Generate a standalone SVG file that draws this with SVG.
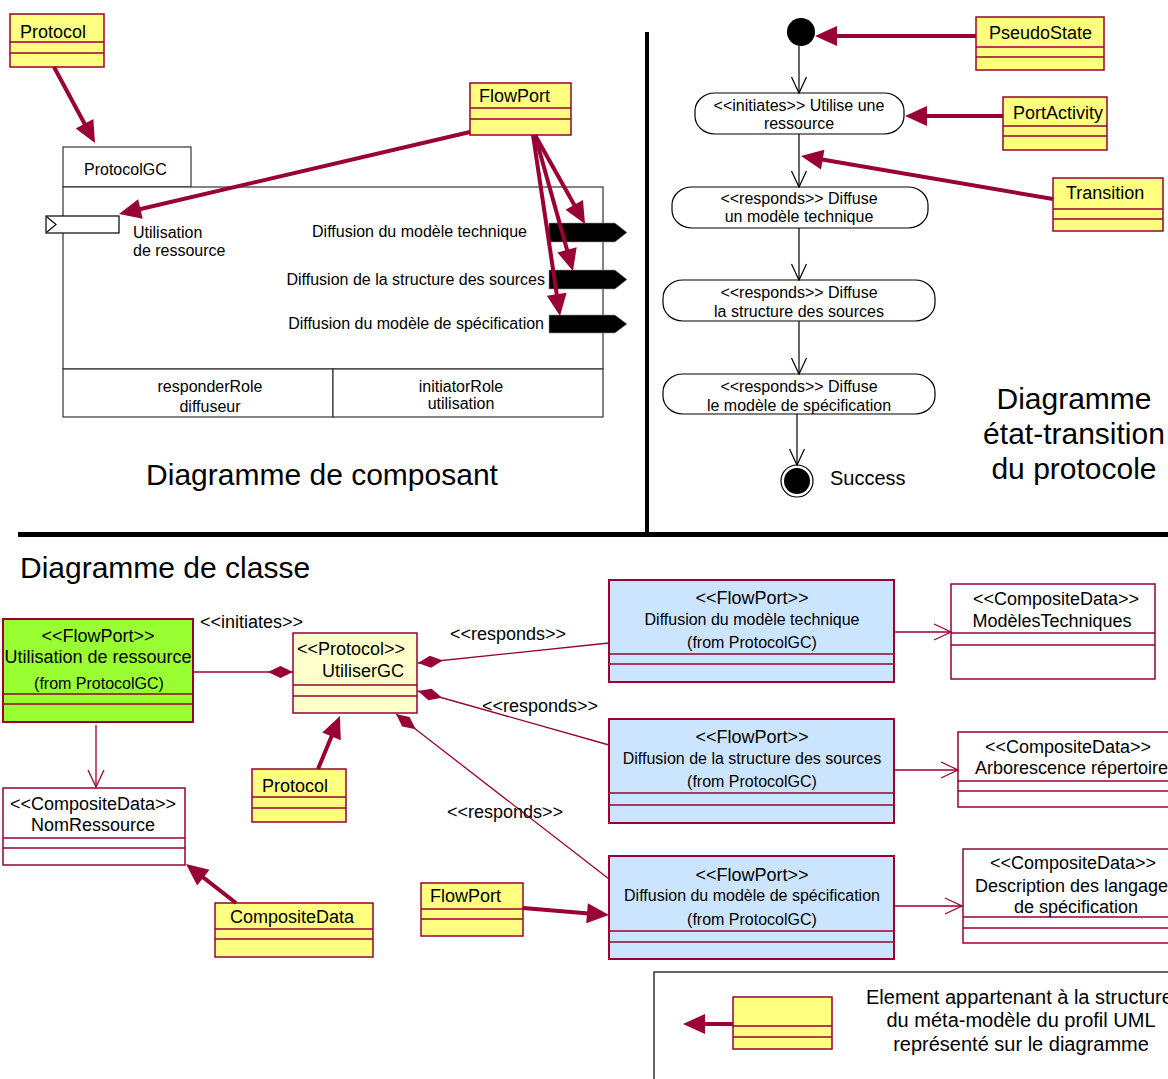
<svg xmlns="http://www.w3.org/2000/svg" width="1168" height="1079" viewBox="0 0 1168 1079">
<style>
text{font-family:"Liberation Sans",Arial,sans-serif;fill:#000}
.t16{font-size:16px}
.t18{font-size:18px}
.t20{font-size:20px}
.t30{font-size:30px}
.mid{text-anchor:middle}
.end{text-anchor:end}
.yb{fill:#ffff80;stroke:#990033;stroke-width:1.5}
.bb{fill:#cce5ff;stroke:#990033;stroke-width:2}
.gb{fill:#99ff33;stroke:#990033;stroke-width:2}
.lyb{fill:#ffffcc;stroke:#990033;stroke-width:1.5}
.wb{fill:#fff;stroke:#990033;stroke-width:1.5}
.cl{stroke:#990033;stroke-width:1.5;fill:none}
.heavy{stroke:#990033;stroke-width:4;fill:none;marker-end:url(#hv)}
.thin{stroke:#990033;stroke-width:1.3;fill:none}
.comp{fill:#fff;stroke:#333;stroke-width:1.2}
.state{fill:#fff;stroke:#000;stroke-width:1.2}
.tr{stroke:#000;stroke-width:1.2;fill:none;marker-end:url(#ov)}
</style>
<defs>
<marker id="hv" markerUnits="userSpaceOnUse" markerWidth="22" markerHeight="20" refX="14" refY="10" orient="auto" overflow="visible"><path d="M0,0 L22,10 L0,20 z" fill="#990033"/></marker>
<marker id="ov" markerUnits="userSpaceOnUse" markerWidth="17" markerHeight="16" refX="16" refY="7.5" orient="auto" overflow="visible"><path d="M0,0 L16,7.5 L0,15" fill="none" stroke="#000" stroke-width="1.2"/></marker>
<marker id="ovr" markerUnits="userSpaceOnUse" markerWidth="18" markerHeight="17" refX="17" refY="8" orient="auto" overflow="visible"><path d="M0,0 L17,8 L0,16" fill="none" stroke="#990033" stroke-width="1.3"/></marker>
<marker id="dia" markerUnits="userSpaceOnUse" markerWidth="25" markerHeight="13" refX="0" refY="6" orient="auto" overflow="visible"><path d="M0,6 L12.5,0 L25,6 L12.5,12 z" fill="#990033"/></marker>
</defs>

<!-- separators -->
<rect x="645" y="32" width="4" height="502" fill="#000"/>
<rect x="18" y="532" width="1150" height="5" fill="#000"/>

<!-- ===== Component diagram ===== -->
<g id="protocolgc">
<rect class="comp" x="63" y="147" width="128" height="40"/>
<text class="t16" x="84" y="175">ProtocolGC</text>
<rect class="comp" x="63" y="187" width="540" height="182"/>
<rect class="comp" x="63" y="369" width="270" height="48"/>
<rect class="comp" x="333" y="369" width="270" height="48"/>
<text class="t16 mid" x="210" y="392">responderRole</text>
<text class="t16 mid" x="210" y="412">diffuseur</text>
<text class="t16 mid" x="461" y="392">initiatorRole</text>
<text class="t16 mid" x="461" y="409">utilisation</text>
</g>
<g id="port-utilisation">
<rect x="46" y="216" width="73" height="17" fill="#fff" stroke="#000" stroke-width="1.2"/>
<path d="M47,217 L56,224.5 L47,232" fill="none" stroke="#000" stroke-width="1.2"/>
<text class="t16" x="133" y="238">Utilisation</text>
<text class="t16" x="133" y="256">de ressource</text>
</g>
<g id="port-technique">
<path d="M549,223 H615 L627,232.5 L615,242 H549 z" fill="#000" stroke="#999" stroke-width="0.6"/>
<text class="t16 end" x="527" y="237">Diffusion du modèle technique</text>
</g>
<g id="port-sources">
<path d="M549,270 H615 L627,279.5 L615,289 H549 z" fill="#000" stroke="#999" stroke-width="0.6"/>
<text class="t16 end" x="545" y="285">Diffusion de la structure des sources</text>
</g>
<g id="port-specification">
<path d="M549,315 H615 L627,324 L615,333 H549 z" fill="#000" stroke="#999" stroke-width="0.6"/>
<text class="t16 end" x="544" y="329">Diffusion du modèle de spécification</text>
</g>
<g id="protocol-top">
<rect class="yb" x="10" y="14" width="94" height="53"/>
<line class="cl" x1="10" y1="42" x2="104" y2="42"/>
<line class="cl" x1="10" y1="53" x2="104" y2="53"/>
<text class="t18" x="20" y="38">Protocol</text>
</g>
<g id="flowport-top">
<rect class="yb" x="470" y="83" width="101" height="52"/>
<line class="cl" x1="470" y1="108" x2="571" y2="108"/>
<line class="cl" x1="470" y1="119" x2="571" y2="119"/>
<text class="t18" x="479" y="102">FlowPort</text>
</g>
<text class="t30 mid" x="322" y="485">Diagramme de composant</text>

<!-- ===== State diagram ===== -->
<g id="initial"><circle cx="801" cy="32" r="14" fill="#000"/></g>
<g id="state1">
<rect class="state" x="695" y="93" width="209" height="41" rx="20" ry="18"/>
<text class="t16 mid" x="799" y="111">&lt;&lt;initiates&gt;&gt; Utilise une</text>
<text class="t16 mid" x="799" y="129">ressource</text>
</g>
<g id="state2">
<rect class="state" x="672" y="187" width="256" height="41" rx="20" ry="18"/>
<text class="t16 mid" x="799" y="204">&lt;&lt;responds&gt;&gt; Diffuse</text>
<text class="t16 mid" x="799" y="222">un modèle technique</text>
</g>
<g id="state3">
<rect class="state" x="663" y="280" width="272" height="41" rx="20" ry="18"/>
<text class="t16 mid" x="799" y="298">&lt;&lt;responds&gt;&gt; Diffuse</text>
<text class="t16 mid" x="799" y="317">la structure des sources</text>
</g>
<g id="state4">
<rect class="state" x="663" y="374" width="272" height="40" rx="20" ry="18"/>
<text class="t16 mid" x="799" y="392">&lt;&lt;responds&gt;&gt; Diffuse</text>
<text class="t16 mid" x="799" y="411">le modèle de spécification</text>
</g>
<g id="final">
<circle cx="797" cy="481" r="16" fill="#fff" stroke="#000" stroke-width="1.2"/>
<circle cx="797" cy="481" r="13" fill="#000"/>
<text class="t20" x="830" y="485">Success</text>
</g>
<g id="pseudostate">
<rect class="yb" x="976" y="17" width="128" height="53"/>
<line class="cl" x1="976" y1="47" x2="1104" y2="47"/>
<line class="cl" x1="976" y1="57" x2="1104" y2="57"/>
<text class="t18" x="989" y="39">PseudoState</text>
</g>
<g id="portactivity">
<rect class="yb" x="1003" y="97" width="104" height="53"/>
<line class="cl" x1="1003" y1="126" x2="1107" y2="126"/>
<line class="cl" x1="1003" y1="136" x2="1107" y2="136"/>
<text class="t18" x="1013" y="119">PortActivity</text>
</g>
<g id="transition">
<rect class="yb" x="1053" y="178" width="110" height="53"/>
<line class="cl" x1="1053" y1="209" x2="1163" y2="209"/>
<line class="cl" x1="1053" y1="219" x2="1163" y2="219"/>
<text class="t18" x="1066" y="199">Transition</text>
</g>
<text class="t30 mid" x="1074" y="409">Diagramme</text>
<text class="t30 mid" x="1074" y="444">état-transition</text>
<text class="t30 mid" x="1074" y="479">du protocole</text>

<!-- ===== Class diagram ===== -->
<text class="t30" x="20" y="578">Diagramme de classe</text>
<g id="utilisation-ressource">
<rect class="gb" x="3" y="619" width="190" height="103"/>
<line class="cl" x1="3" y1="694" x2="193" y2="694"/>
<line class="cl" x1="3" y1="704" x2="193" y2="704"/>
<text class="t18 mid" x="98" y="642">&lt;&lt;FlowPort&gt;&gt;</text>
<text class="t18 mid" x="98" y="663">Utilisation de ressource</text>
<text class="t16 mid" x="99" y="689">(from ProtocolGC)</text>
</g>
<g id="utilisergc">
<rect class="lyb" x="293" y="633" width="124" height="80"/>
<line class="cl" x1="293" y1="685" x2="417" y2="685"/>
<line class="cl" x1="293" y1="696" x2="417" y2="696"/>
<text class="t18" x="297" y="655">&lt;&lt;Protocol&gt;&gt;</text>
<text class="t18" x="322" y="677">UtiliserGC</text>
</g>
<g id="nomressource">
<rect class="wb" x="3" y="788" width="182" height="77"/>
<line class="cl" x1="3" y1="838" x2="185" y2="838"/>
<line class="cl" x1="3" y1="848" x2="185" y2="848"/>
<text class="t18 mid" x="93" y="810">&lt;&lt;CompositeData&gt;&gt;</text>
<text class="t18 mid" x="93" y="831">NomRessource</text>
</g>
<g id="protocol-bottom">
<rect class="yb" x="252" y="769" width="94" height="53"/>
<line class="cl" x1="252" y1="797" x2="346" y2="797"/>
<line class="cl" x1="252" y1="808" x2="346" y2="808"/>
<text class="t18" x="262" y="792">Protocol</text>
</g>
<g id="compositedata">
<rect class="yb" x="215" y="903" width="158" height="54"/>
<line class="cl" x1="215" y1="929" x2="373" y2="929"/>
<line class="cl" x1="215" y1="939" x2="373" y2="939"/>
<text class="t18" x="230" y="923">CompositeData</text>
</g>
<g id="flowport-bottom">
<rect class="yb" x="421" y="883" width="102" height="53"/>
<line class="cl" x1="421" y1="909" x2="523" y2="909"/>
<line class="cl" x1="421" y1="919" x2="523" y2="919"/>
<text class="t18" x="430" y="902">FlowPort</text>
</g>
<g id="fp-technique">
<rect class="bb" x="609" y="580" width="285" height="102"/>
<line class="cl" x1="609" y1="654" x2="894" y2="654"/>
<line class="cl" x1="609" y1="664" x2="894" y2="664"/>
<text class="t18 mid" x="752" y="604">&lt;&lt;FlowPort&gt;&gt;</text>
<text class="t16 mid" x="752" y="625">Diffusion du modèle technique</text>
<text class="t16 mid" x="752" y="648">(from ProtocolGC)</text>
</g>
<g id="fp-sources">
<rect class="bb" x="609" y="719" width="285" height="104"/>
<line class="cl" x1="609" y1="793" x2="894" y2="793"/>
<line class="cl" x1="609" y1="805" x2="894" y2="805"/>
<text class="t18 mid" x="752" y="743">&lt;&lt;FlowPort&gt;&gt;</text>
<text class="t16 mid" x="752" y="764">Diffusion de la structure des sources</text>
<text class="t16 mid" x="752" y="787">(from ProtocolGC)</text>
</g>
<g id="fp-specification">
<rect class="bb" x="609" y="856" width="285" height="103"/>
<line class="cl" x1="609" y1="931" x2="894" y2="931"/>
<line class="cl" x1="609" y1="942" x2="894" y2="942"/>
<text class="t18 mid" x="752" y="881">&lt;&lt;FlowPort&gt;&gt;</text>
<text class="t16 mid" x="752" y="901">Diffusion du modèle de spécification</text>
<text class="t16 mid" x="752" y="925">(from ProtocolGC)</text>
</g>
<g id="cd-modeles">
<rect class="wb" x="951" y="584" width="204" height="95"/>
<line class="cl" x1="951" y1="633" x2="1155" y2="633"/>
<line class="cl" x1="951" y1="645" x2="1155" y2="645"/>
<text class="t18 mid" x="1056" y="605">&lt;&lt;CompositeData&gt;&gt;</text>
<text class="t18 mid" x="1052" y="627">ModèlesTechniques</text>
</g>
<g id="cd-arborescence">
<rect class="wb" x="958" y="732" width="230" height="75"/>
<line class="cl" x1="958" y1="781" x2="1168" y2="781"/>
<line class="cl" x1="958" y1="791" x2="1168" y2="791"/>
<text class="t18 mid" x="1068" y="753">&lt;&lt;CompositeData&gt;&gt;</text>
<text class="t18" x="975" y="774">Arborescence répertoire</text>
</g>
<g id="cd-description">
<rect class="wb" x="963" y="849" width="230" height="94"/>
<line class="cl" x1="963" y1="917" x2="1168" y2="917"/>
<line class="cl" x1="963" y1="928" x2="1168" y2="928"/>
<text class="t18 mid" x="1073" y="869">&lt;&lt;CompositeData&gt;&gt;</text>
<text class="t18" x="975" y="892">Description des langages</text>
<text class="t18 mid" x="1076" y="913">de spécification</text>
</g>
<g id="legend">
<rect x="654" y="972" width="540" height="130" fill="none" stroke="#000" stroke-width="1.2"/>
<rect class="yb" x="733" y="997" width="99" height="52"/>
<line class="cl" x1="733" y1="1026" x2="832" y2="1026"/>
<line class="cl" x1="733" y1="1037" x2="832" y2="1037"/>
<text class="t20" x="866" y="1004">Element appartenant à la structure</text>
<text class="t20 mid" x="1021" y="1027">du méta-modèle du profil UML</text>
<text class="t20 mid" x="1021" y="1051">représenté sur le diagramme</text>
</g>

<!-- ===== Connectors ===== -->
<g id="connectors">
<path class="heavy" d="M54,67 L91.2,136"/>
<path class="heavy" d="M470,132 L126.8,212.2"/>
<path class="heavy" d="M535,135 L581.1,217"/>
<path class="heavy" d="M535,135 L570.8,263.3"/>
<path class="heavy" d="M533,135 L558.8,308.1"/>
<path class="heavy" d="M976,36 L823,36"/>
<path class="heavy" d="M1003,116 L913,116"/>
<path class="heavy" d="M1053,199 L808.9,157.3"/>
<path class="tr" d="M799,46 V93"/>
<path class="tr" d="M799,134 V187"/>
<path class="tr" d="M799,228 V280"/>
<path class="tr" d="M799,321 V374"/>
<path class="tr" d="M797,414 V465"/>
<path class="thin" d="M293,672 H193" marker-start="url(#dia)"/>
<text class="t18" x="200" y="628">&lt;&lt;initiates&gt;&gt;</text>
<path class="thin" d="M418,663 L609,643" marker-start="url(#dia)"/>
<text class="t18" x="450" y="640">&lt;&lt;responds&gt;&gt;</text>
<path class="thin" d="M418,691 L609,745" marker-start="url(#dia)"/>
<text class="t18" x="482" y="712">&lt;&lt;responds&gt;&gt;</text>
<path class="thin" d="M396,714 L609,879" marker-start="url(#dia)"/>
<text class="t18" x="447" y="818">&lt;&lt;responds&gt;&gt;</text>
<path class="thin" d="M96,725 V787" marker-end="url(#ovr)"/>
<path class="thin" d="M894,632 H951" marker-end="url(#ovr)"/>
<path class="thin" d="M894,770 H958" marker-end="url(#ovr)"/>
<path class="thin" d="M894,906 H962" marker-end="url(#ovr)"/>
<path class="heavy" d="M318,769 L336.9,723.4"/>
<path class="heavy" d="M236,903 L192.3,868.9"/>
<path class="heavy" d="M523,908 L601,914.4"/>
<path class="heavy" d="M733,1024 L691,1024"/>
</g>
</svg>
